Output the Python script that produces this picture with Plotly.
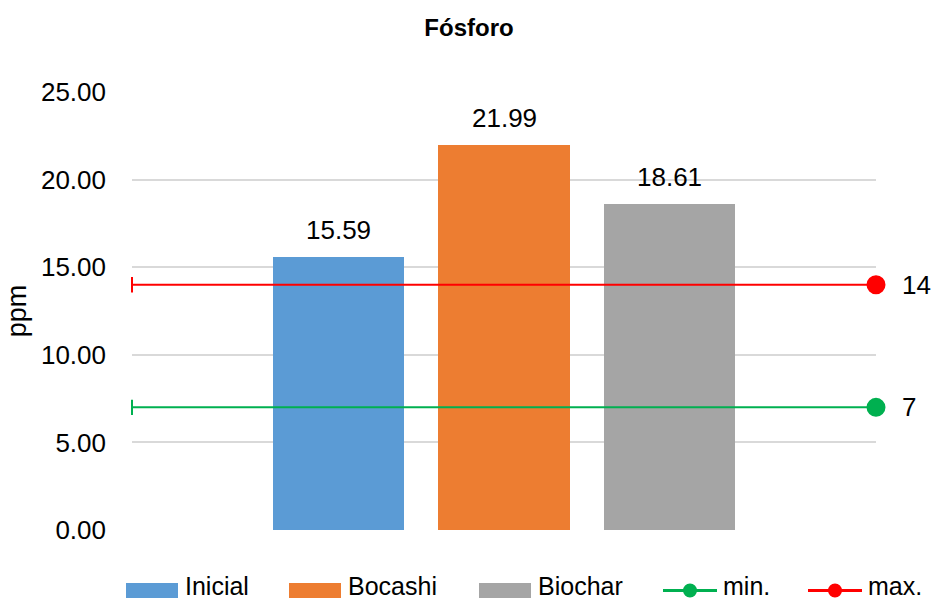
import plotly.graph_objects as go

# Phosphorus content per treatment (ppm)
categories = ["Inicial", "Bocashi", "Biochar"]
values = [15.59, 21.99, 18.61]
bar_colors = ["#5b9bd5", "#ed7d31", "#a5a5a5"]

# Reference limits
limit_names = ["min.", "max."]
limit_values = [7, 14]
limit_colors = ["#00b050", "#ff0000"]

positions = [1, 2, 3]
x_range = [-0.25, 4.25]
y_range = [0, 25]

FONT = "Liberation Sans, Arial, sans-serif"
W, H = 931, 601
M_L, M_R, M_T, M_B = 132, 55, 92, 71
PLOT_W = W - M_L - M_R
PLOT_H = H - M_T - M_B


def px_to_paper_x(px):
    return (px - M_L) / PLOT_W


def px_to_paper_y(py):
    return (H - M_B - py) / PLOT_H


fig = go.Figure()

for cat, val, col, pos in zip(categories, values, bar_colors, positions):
    fig.add_trace(go.Bar(
        x=[pos], y=[val], name=cat, width=0.794, showlegend=False,
        marker=dict(color=col, line=dict(width=0)),
        hovertemplate=f"{cat}: %{{y:.2f}}<extra></extra>",
    ))
    fig.add_annotation(
        x=pos, y=val, text=f"{val:.2f}", showarrow=False,
        yanchor="bottom", yshift=10,
        font=dict(size=26, color="#000000", family=FONT),
    )

for name, val, col in zip(limit_names, limit_values, limit_colors):
    fig.add_trace(go.Scatter(
        x=x_range, y=[val, val], name=name, mode="lines+markers", showlegend=False,
        line=dict(color=col, width=2),
        marker=dict(color=col, symbol=["line-ns-open", "circle"], size=[11, 17],
                    opacity=1, line=dict(color=col, width=2)),
        opacity=1,
        cliponaxis=False,
    ))
    fig.add_annotation(
        x=x_range[1], y=val, text=str(val), showarrow=False,
        xanchor="left", xshift=24, font=dict(size=26, color="#000000", family=FONT),
    )

# Legend row along the bottom
LEG_Y0, LEG_Y1 = 583, 598
LEG_YC = (LEG_Y0 + LEG_Y1) / 2
LEG_FONT = dict(size=25, color="#000000", family=FONT)
bar_legend = [(126, 184), (289, 347), (479, 537)]
for (x0, tx), cat, col in zip(bar_legend, categories, bar_colors):
    fig.add_shape(type="rect", xref="paper", yref="paper",
                  x0=px_to_paper_x(x0), x1=px_to_paper_x(x0 + 52),
                  y0=px_to_paper_y(LEG_Y1), y1=px_to_paper_y(LEG_Y0),
                  fillcolor=col, line=dict(width=0), layer="above")
    fig.add_annotation(xref="paper", yref="paper", x=px_to_paper_x(tx),
                       y=px_to_paper_y(H), text=cat, showarrow=False,
                       xanchor="left", yanchor="bottom", borderpad=0,
                       font=LEG_FONT)

line_legend = [(663, 722), (808, 867)]
for (x0, tx), name, col in zip(line_legend, limit_names, limit_colors):
    fig.add_shape(type="line", xref="paper", yref="paper",
                  x0=px_to_paper_x(x0), x1=px_to_paper_x(x0 + 54),
                  y0=px_to_paper_y(LEG_YC), y1=px_to_paper_y(LEG_YC),
                  line=dict(color=col, width=3), layer="above")
    cx = x0 + 27
    fig.add_shape(type="circle", xref="paper", yref="paper",
                  x0=px_to_paper_x(cx - 7), x1=px_to_paper_x(cx + 7),
                  y0=px_to_paper_y(LEG_YC + 7), y1=px_to_paper_y(LEG_YC - 7),
                  fillcolor=col, line=dict(width=0), layer="above")
    fig.add_annotation(xref="paper", yref="paper", x=px_to_paper_x(tx),
                       y=px_to_paper_y(H), text=name, showarrow=False,
                       xanchor="left", yanchor="bottom", borderpad=0,
                       font=LEG_FONT)

fig.update_layout(
    width=W, height=H,
    margin=dict(l=M_L, r=M_R, t=M_T, b=M_B, autoexpand=False),
    paper_bgcolor="white", plot_bgcolor="white",
    font=dict(family=FONT, color="#000000"),
    title=dict(text="<b>Fósforo</b>", x=469 / W, xanchor="center",
               y=1 - 28 / H, yanchor="middle",
               font=dict(size=24, family=FONT, color="#000000")),
    bargap=0,
    showlegend=False,
    xaxis=dict(range=x_range, showticklabels=False, showgrid=False, zeroline=False,
               showline=False, fixedrange=True),
    yaxis=dict(range=y_range, dtick=5, tickformat=".2f", showgrid=True,
               gridcolor="#d9d9d9", gridwidth=1.5, zeroline=False, showline=False,
               tickfont=dict(size=26, family=FONT), ticklabelstandoff=25,
               automargin=False,
               title=dict(text="ppm", font=dict(size=27, family=FONT), standoff=6)),
)

fig.write_html("out.html")
